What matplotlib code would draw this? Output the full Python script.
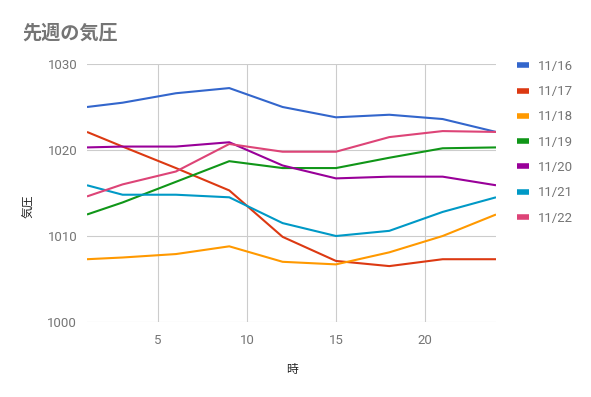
import matplotlib
matplotlib.use('Agg')
import matplotlib.pyplot as plt

# ======== Data (hour vs pressure, one series per day) ========
hours = [1, 3, 6, 9, 12, 15, 18, 21, 24]
days = ["11/16", "11/17", "11/18", "11/19", "11/20", "11/21", "11/22"]
p_1116 = [1025.0, 1025.5, 1026.6, 1027.2, 1025.0, 1023.8, 1024.1, 1023.6, 1022.1]
p_1117 = [1022.1, 1020.4, 1017.9, 1015.3, 1009.9, 1007.1, 1006.5, 1007.3, 1007.3]
p_1118 = [1007.3, 1007.5, 1007.9, 1008.8, 1007.0, 1006.7, 1008.1, 1010.0, 1012.5]
p_1119 = [1012.5, 1013.9, 1016.3, 1018.7, 1017.9, 1017.9, 1019.1, 1020.2, 1020.3]
p_1120 = [1020.3, 1020.4, 1020.4, 1020.9, 1018.2, 1016.7, 1016.9, 1016.9, 1015.9]
p_1121 = [1015.9, 1014.8, 1014.8, 1014.5, 1011.5, 1010.0, 1010.6, 1012.8, 1014.5]
p_1122 = [1014.6, 1016.0, 1017.5, 1020.7, 1019.8, 1019.8, 1021.5, 1022.2, 1022.1]
series = [p_1116, p_1117, p_1118, p_1119, p_1120, p_1121, p_1122]

colors = ["#3366cc", "#dc3912", "#ff9900", "#109618", "#990099", "#0099c6", "#dd4477"]
x_ticks = [5, 10, 15, 20]
y_ticks = [1000, 1010, 1020, 1030]

jp_font = ['Noto Sans CJK JP', 'DejaVu Sans']
num_font = ['Roboto', 'DejaVu Sans']
text_gray = "#757575"

W, H = 591, 397
fig = plt.figure(figsize=(W / 100, H / 100), dpi=100)
ax = fig.add_axes([87 / W, 1 - 322 / H, 409 / W, 258 / H])

for vals, col, lab in zip(series, colors, days):
    ax.plot(hours, vals, color=col, linewidth=1.5, label=lab, solid_capstyle='butt')

ax.set_xlim(1, 24)
ax.set_ylim(1000, 1030)
ax.set_xticks(x_ticks)
ax.set_yticks(y_ticks)
ax.grid(True, color="#cccccc", linewidth=0.8)
ax.set_axisbelow(True)
for s in ax.spines.values():
    s.set_visible(False)
ax.tick_params(length=0, pad=7, labelcolor=text_gray, labelsize=9.5)
for t in ax.get_xticklabels() + ax.get_yticklabels():
    t.set_fontfamily(num_font)
ax.tick_params(axis='x', pad=9)

# axis titles placed in figure pixels
fig.text(292 / W, 1 - 369 / H, "時", family=jp_font, fontsize=8.5,
         color="#222222", ha='center', va='center')
fig.text(29 / W, 1 - 206 / H, "気圧", family=jp_font, fontsize=8.5,
         color="#222222", ha='center', va='center', rotation=90)

fig.text(22 / W, 1 - 33 / H, "先週の気圧", family=jp_font, fontsize=13.8,
         fontweight='bold', color=text_gray, va='center', ha='left')

leg = ax.legend(loc='upper left', bbox_to_anchor=(505 / W, 1 - 48 / H),
                bbox_transform=fig.transFigure, frameon=False,
                handlelength=0.9, handletextpad=0.7, labelspacing=0.93,
                prop={'family': num_font, 'size': 9.5})
for line in leg.get_lines():
    line.set_linewidth(4)
for t in leg.get_texts():
    t.set_color(text_gray)

plt.savefig("out.png", dpi=100)
